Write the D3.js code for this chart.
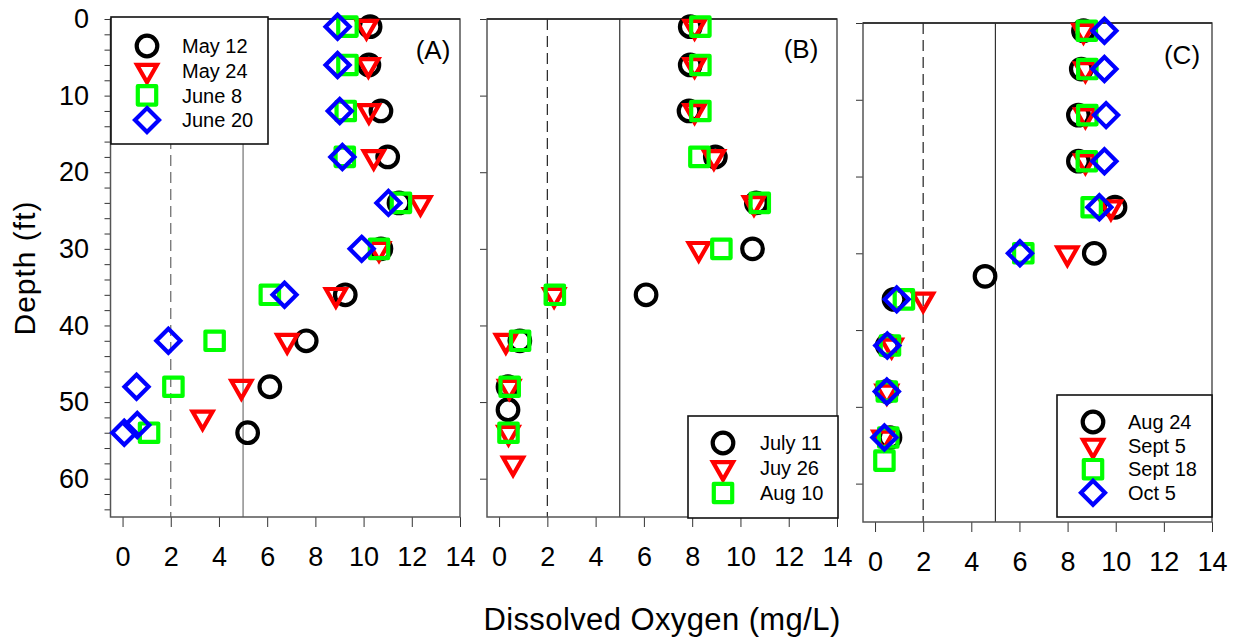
<!DOCTYPE html>
<html>
<head>
<meta charset="utf-8">
<script src="https://cdn.jsdelivr.net/npm/d3@7"></script>
<style>
  body { margin: 0; background: #fff; }
  svg { display: block; }
  text { font-family: Arial, "Liberation Sans", sans-serif; fill: #000; }
</style>
</head>
<body>
<svg id="chart" width="1238" height="640"></svg>
<script>
// tick labels
const xTickValues = [0, 2, 4, 6, 8, 10, 12, 14];
const depthLabels = [0, 10, 20, 30, 40, 50, 60];

// panel A
const datesA = ["May 12", "May 24", "June 8", "June 20"];
const depthA1 = [1, 6, 12, 18, 24, 30, 36, 42, 48, 54];
const doA1 = [10.27, 10.22, 10.72, 11.0, 11.47, 10.72, 9.24, 7.62, 6.11, 5.19];
const depthA2 = [1, 6, 12, 18, 24, 30, 36, 42, 48, 52];
const doA2 = [10.12, 10.2, 10.22, 10.42, 12.36, 10.64, 8.85, 6.83, 4.93, 3.32];
const depthA3 = [1, 6, 12, 18, 24, 30, 36, 42, 48, 54];
const doA3 = [9.33, 9.33, 9.26, 9.22, 11.55, 10.64, 6.11, 3.82, 2.11, 1.10];
const depthA4 = [1, 6, 12, 18, 24, 30, 36, 42, 48, 53, 54];
const doA4 = [8.92, 8.92, 9.01, 9.12, 11.03, 9.92, 6.72, 1.90, 0.58, 0.61, 0.07];

// panel B
const datesB = ["July 11", "Juy 26", "Aug 10"];
const depthB1 = [1, 6, 12, 18, 24, 30, 36, 42, 48, 51];
const doB1 = [7.92, 7.92, 7.87, 8.96, 10.66, 10.5, 6.09, 0.86, 0.37, 0.37];
const depthB2 = [1, 6, 12, 18, 24, 30, 36, 42, 48, 54, 58];
const doB2 = [8.1, 8.1, 8.1, 8.9, 10.56, 8.27, 2.28, 0.28, 0.42, 0.39, 0.58];
const depthB3 = [1, 6, 12, 18, 24, 30, 36, 42, 48, 54];
const doB3 = [8.34, 8.34, 8.34, 8.3, 10.8, 9.21, 2.31, 0.87, 0.44, 0.39];

// panel C
const datesC = ["Aug 24", "Sept 5", "Sept 18", "Oct 5"];
const depthC1 = [1, 6, 12, 18, 24, 30, 33, 36, 42, 48, 54];
const doC1 = [8.66, 8.57, 8.45, 8.45, 9.97, 9.11, 4.57, 0.79, 0.51, 0.49, 0.62];
const depthC2 = [1, 6, 12, 18, 24, 30, 36, 42, 48, 54];
const doC2 = [8.66, 8.74, 8.74, 8.74, 9.8, 7.99, 2.0, 0.69, 0.49, 0.35];
const depthC3 = [1, 6, 12, 18, 24, 30, 36, 42, 48, 54, 57];
const doC3 = [8.8, 8.82, 8.82, 8.8, 9.0, 6.16, 1.2, 0.62, 0.49, 0.55, 0.39];
const depthC4 = [1, 6, 12, 18, 24, 30, 36, 42, 48, 54];
const doC4 = [9.53, 9.53, 9.6, 9.53, 9.32, 6.02, 0.9, 0.51, 0.49, 0.39];

// reference lines (mg/L)
const dashedRef = 2;
const solidRef = 5;

const shapes = ["circle", "triangle", "square", "diamond"];
const colors = { circle: "#000000", triangle: "#ff0000", square: "#00ff00", diamond: "#0000ff" };

function makeSeries(names, depths, values) {
  return names.map((name, i) => ({
    name: name,
    shape: shapes[i],
    points: depths[i].map((d, j) => ({ depth: d, value: values[i][j] }))
  }));
}

const panels = [
  {
    label: "(A)", labelX: 433, labelY: 59,
    left: 110.5, right: 460, top: 19, bottom: 517,
    series: makeSeries(datesA, [depthA1, depthA2, depthA3, depthA4], [doA1, doA2, doA3, doA4]),
    legend: { x: 111, y: 17, w: 157, h: 127, row0: 29, step: 24.7, symX: 36, textX: 71 },
    yLabels: true, refColor: "#666"
  },
  {
    label: "(B)", labelX: 801, labelY: 58,
    left: 487, right: 837, top: 19, bottom: 517,
    series: makeSeries(datesB, [depthB1, depthB2, depthB3], [doB1, doB2, doB3]),
    legend: { x: 688, y: 416, w: 150, h: 102, row0: 27, step: 25, symX: 35, textX: 72 },
    yLabels: false, refColor: "#222"
  },
  {
    label: "(C)", labelX: 1182, labelY: 64,
    left: 863, right: 1212, top: 23, bottom: 522,
    series: makeSeries(datesC, [depthC1, depthC2, depthC3, depthC4], [doC1, doC2, doC3, doC4]),
    legend: { x: 1057, y: 395, w: 155, h: 122, row0: 27, step: 23.6, symX: 36, textX: 71 },
    yLabels: false, refColor: "#222"
  }
];

function markerPath(shape) {
  if (shape === "circle") {
    return d3.symbol().type(d3.symbolCircle).size(Math.PI * 10.3 * 10.3)();
  }
  if (shape === "triangle") {
    const w = 20, h = 17.5;
    return `M${-w / 2},${-h / 3}L${w / 2},${-h / 3}L0,${2 * h / 3}Z`;
  }
  if (shape === "square") {
    const s = 9.2;
    return `M${-s},${-s}L${s},${-s}L${s},${s}L${-s},${s}Z`;
  }
  const r = 12;
  return `M0,${-r}L${r},0L0,${r}L${-r},0Z`;
}

function drawMarker(g, shape, x, y) {
  g.append("path")
    .attr("d", markerPath(shape))
    .attr("transform", `translate(${x},${y})`)
    .attr("fill", "none")
    .attr("stroke", colors[shape])
    .attr("stroke-width", 4.2)
    .attr("stroke-linejoin", shape === "square" ? "round" : "miter");
}

const svg = d3.select("#chart");

panels.forEach((p) => {
  const x = d3.scaleLinear().domain([-0.5, 14]).range([p.left, p.right]);
  const y = d3.scaleLinear().domain([0, 65]).range([p.top, p.bottom]);
  const g = svg.append("g");

  // bottom axis
  const xAxis = g.append("g")
    .attr("transform", `translate(0,${p.bottom})`)
    .call(d3.axisBottom(x).tickValues(xTickValues).tickSize(10).tickPadding(20));
  xAxis.select(".domain").remove();
  xAxis.selectAll("line").attr("stroke", "#333");
  xAxis.selectAll("text").attr("font-size", 27).style("font-family", "Arial, 'Liberation Sans', sans-serif");

  // left axis
  const yAxis = d3.axisLeft(y);
  if (p.yLabels) {
    yAxis.tickValues(d3.range(0, 65, 2)).tickSize(6).tickPadding(15.5)
      .tickFormat((d) => depthLabels.includes(d) ? d : "");
  } else {
    yAxis.tickValues(depthLabels).tickSize(7).tickFormat("");
  }
  const yG = g.append("g").attr("transform", `translate(${p.left},0)`).call(yAxis);
  yG.select(".domain").remove();
  yG.selectAll("line").attr("stroke", "#333");
  yG.selectAll("text").attr("font-size", 27).style("font-family", "Arial, 'Liberation Sans', sans-serif");

  // reference lines
  g.append("line")
    .attr("x1", x(dashedRef)).attr("x2", x(dashedRef))
    .attr("y1", p.top).attr("y2", p.bottom)
    .attr("stroke", p.refColor).attr("stroke-width", 1.2)
    .attr("stroke-dasharray", "11,6");
  g.append("line")
    .attr("x1", x(solidRef)).attr("x2", x(solidRef))
    .attr("y1", p.top).attr("y2", p.bottom)
    .attr("stroke", p.refColor).attr("stroke-width", 1.1);

  // frame
  g.append("rect")
    .attr("x", p.left).attr("y", p.top)
    .attr("width", p.right - p.left).attr("height", p.bottom - p.top)
    .attr("fill", "none").attr("stroke", "#555").attr("stroke-width", 1.5);
  g.append("line")
    .attr("x1", p.left).attr("x2", p.right).attr("y1", p.top).attr("y2", p.top)
    .attr("stroke", "#222").attr("stroke-width", 1.5);

  // markers
  p.series.forEach((s) => {
    s.points.forEach((pt) => drawMarker(g, s.shape, x(pt.value), y(pt.depth)));
  });

  // legend
  const L = p.legend;
  const lg = g.append("g").attr("transform", `translate(${L.x},${L.y})`);
  lg.append("rect")
    .attr("width", L.w).attr("height", L.h)
    .attr("fill", "#fff").attr("stroke", "#111").attr("stroke-width", 1.6);
  p.series.forEach((s, i) => {
    const ry = L.row0 + i * L.step;
    drawMarker(lg, s.shape, L.symX, ry);
    lg.append("text")
      .attr("x", L.textX).attr("y", ry).attr("dy", "0.36em")
      .attr("font-size", 20)
      .text(s.name);
  });

  // panel label
  g.append("text")
    .attr("x", p.labelX).attr("y", p.labelY)
    .attr("text-anchor", "middle")
    .attr("font-size", 26)
    .text(p.label);
});

// axis titles
svg.append("text")
  .attr("x", 662).attr("y", 630)
  .attr("text-anchor", "middle")
  .attr("font-size", 31)
  .attr("letter-spacing", 0.4)
  .text("Dissolved Oxygen (mg/L)");

svg.append("text")
  .attr("transform", "translate(35,268) rotate(-90)")
  .attr("text-anchor", "middle")
  .attr("font-size", 30)
  .attr("letter-spacing", 1)
  .text("Depth (ft)");
</script>
</body>
</html>
